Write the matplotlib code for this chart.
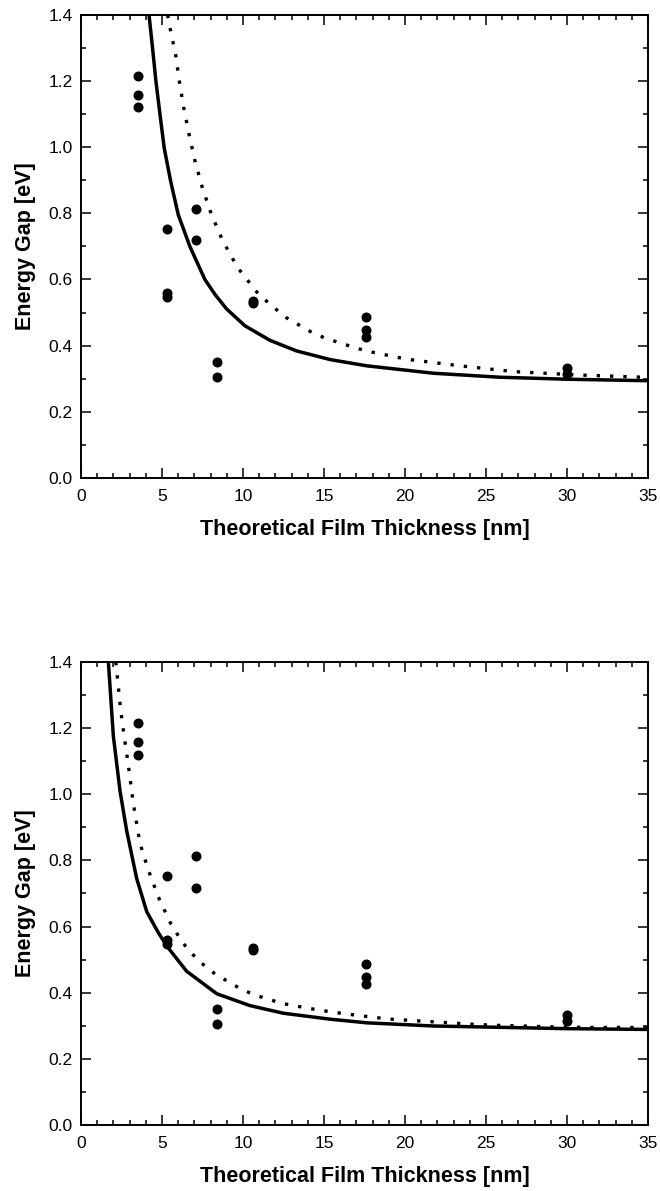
import matplotlib
matplotlib.use('Agg')
import matplotlib.pyplot as plt
from matplotlib.ticker import MultipleLocator, FormatStrFormatter

plt.rcParams['font.family'] = ['Liberation Sans', 'DejaVu Sans']

# measured points (same in both panels)
thick = [3.55, 3.55, 3.55, 5.3, 5.3, 5.3, 7.1, 7.1, 8.4, 8.4, 10.6, 10.6,
         17.6, 17.6, 17.6, 30.0, 30.0]
gap = [1.215, 1.157, 1.120, 0.752, 0.560, 0.548, 0.812, 0.718, 0.351, 0.306,
       0.535, 0.528, 0.488, 0.447, 0.425, 0.332, 0.314]

# top panel model curves
top_solid_x = [4.20, 4.42, 4.63, 4.88, 5.14, 5.54, 6.01, 6.73, 7.65, 8.27, 8.99,
               10.12, 11.67, 13.31, 15.37, 17.64, 21.75, 25.86, 29.98, 35.0]
top_solid_y = [1.400, 1.299, 1.198, 1.098, 0.997, 0.896, 0.795, 0.699, 0.600, 0.555, 0.511,
               0.460, 0.416, 0.384, 0.358, 0.339, 0.3166, 0.3045, 0.2985, 0.294]
top_dot_x = [5.35, 5.49, 5.84, 6.07, 6.34, 6.67, 7.04, 7.49, 8.05, 8.75, 9.67, 10.97,
             12.59, 13.46, 14.24, 15.06, 16.71, 17.53, 20.1, 23.4, 26.7, 30.6, 35.0]
top_dot_y = [1.40, 1.362, 1.281, 1.200, 1.120, 1.039, 0.958, 0.878, 0.797, 0.717, 0.636, 0.555,
             0.487, 0.4625, 0.4405, 0.423, 0.397, 0.385, 0.359, 0.339, 0.3216, 0.3115, 0.304]

# bottom panel model curves
bot_solid_x = [1.69, 2.00, 2.41, 2.82, 3.44, 4.06, 4.77, 5.30, 6.52, 8.38, 10.43,
               12.49, 15.37, 17.64, 21.75, 25.86, 29.98, 35.0]
bot_solid_y = [1.40, 1.175, 1.010, 0.890, 0.745, 0.645, 0.582, 0.541, 0.465, 0.397, 0.361,
               0.338, 0.320, 0.309, 0.2994, 0.2954, 0.2913, 0.289]
bot_dot_x = [2.15, 2.45, 2.67, 2.92, 3.23, 3.64, 4.16, 4.77, 5.53, 6.05, 6.62, 7.45,
             8.27, 9.09, 9.92, 10.74, 12.39, 14.03, 15.57, 17.32, 18.97, 20.6, 22.27,
             23.9, 25.56, 27.2, 28.85, 31.3, 33.8, 35.0]
bot_dot_y = [1.40, 1.255, 1.174, 1.089, 0.973, 0.852, 0.771, 0.690, 0.610, 0.569, 0.529, 0.489,
             0.457, 0.4335, 0.410, 0.393, 0.368, 0.353, 0.341, 0.330, 0.3205, 0.3155, 0.3105,
             0.3054, 0.3014, 0.2994, 0.297, 0.295, 0.295, 0.294]

fig = plt.figure(figsize=(6.6, 11.91), dpi=100)
ax_top = fig.add_axes([0.1227, 0.5987, 0.859, 0.3888])
ax_bot = fig.add_axes([0.1227, 0.0554, 0.859, 0.3888])

panels = [(ax_top, top_solid_x, top_solid_y, top_dot_x, top_dot_y),
          (ax_bot, bot_solid_x, bot_solid_y, bot_dot_x, bot_dot_y)]

for ax, sx, sy, dx, dy in panels:
    ax.plot(sx, sy, color='black', lw=2.5, solid_joinstyle='round')
    ax.plot(dx, dy, color='black', lw=2.4, linestyle=(0, (1, 3)), dash_capstyle='butt')
    ax.plot(thick, gap, 'o', color='black', ms=6.2, clip_on=False)
    ax.set_xlim(0, 35)
    ax.set_ylim(0, 1.4)
    ax.xaxis.set_major_locator(MultipleLocator(5))
    ax.xaxis.set_minor_locator(MultipleLocator(1))
    ax.yaxis.set_major_locator(MultipleLocator(0.2))
    ax.yaxis.set_minor_locator(MultipleLocator(0.1))
    ax.yaxis.set_major_formatter(FormatStrFormatter('%.1f'))
    ax.tick_params(which='both', direction='in', top=True, right=True, width=1.1,
                   labelsize=12.5)
    ax.tick_params(which='major', length=7)
    ax.tick_params(which='minor', length=3.5)
    ax.tick_params(axis='x', pad=8)
    ax.tick_params(axis='y', pad=6)
    for s in ax.spines.values():
        s.set_linewidth(1.4)
    ax.set_xlabel('Theoretical Film Thickness [nm]', fontsize=15.5, fontweight='bold',
                  labelpad=11)
    ax.set_ylabel('Energy Gap [eV]', fontsize=15.5, fontweight='bold', labelpad=9)

fig.savefig('out.png', dpi=100)
